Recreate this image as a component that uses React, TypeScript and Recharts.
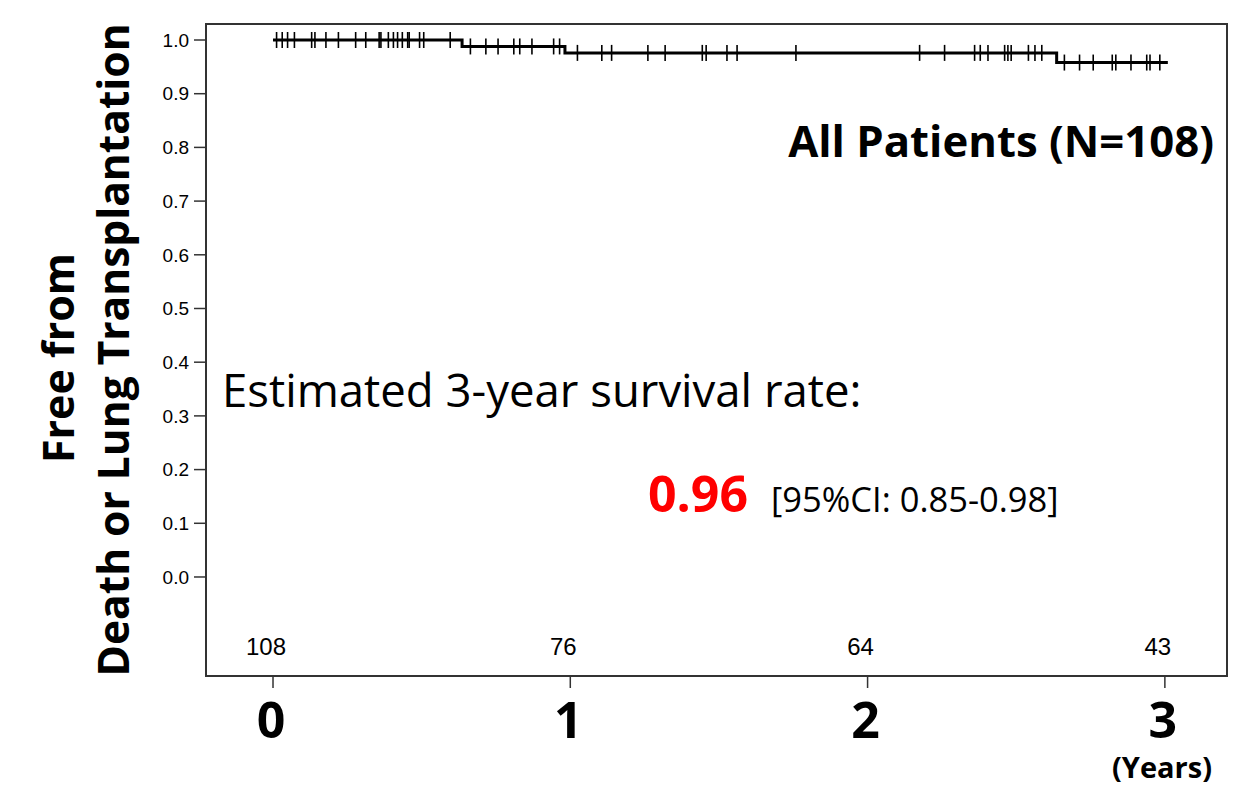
import React from "react";
import {
  ComposedChart,
  Line,
  Scatter,
  XAxis,
  YAxis,
  ReferenceArea,
} from "recharts";

// Kaplan-Meier step curve (years, survival)
const stepTimes = [0, 0.636, 0.982, 2.636, 3.01];
const stepSurvival = [1.0, 0.988, 0.976, 0.958, 0.958];

// Censoring times (years)
const censorTimes = [
  0.012, 0.031, 0.049, 0.072, 0.13, 0.141, 0.178, 0.22, 0.278, 0.312, 0.357,
  0.363, 0.388, 0.405, 0.419, 0.435, 0.453, 0.458, 0.493, 0.507, 0.596, 0.664,
  0.716, 0.757, 0.81, 0.83, 0.871, 0.944, 0.964, 1.024, 1.106, 1.139, 1.261,
  1.319, 1.444, 1.457, 1.527, 1.561, 1.759, 2.175, 2.259, 2.36, 2.379, 2.405,
  2.461, 2.472, 2.483, 2.541, 2.563, 2.586, 2.662, 2.713, 2.759, 2.823, 2.835,
  2.886, 2.939, 2.95, 2.983,
];

// Numbers at risk
const riskTimes = [0, 1, 2, 3];
const riskCounts = [108, 76, 64, 43];
const riskRowY = -0.127;

const xTicks = [0, 1, 2, 3];
const yTicks = [0, 0.1, 0.2, 0.3, 0.4, 0.5, 0.6, 0.7, 0.8, 0.9, 1.0];
const xDomain: [number, number] = [-0.2254, 3.209];
const yDomain: [number, number] = [-0.1844, 1.0298];

const curveData = stepTimes.map((t, i) => ({ t, s: stepSurvival[i] }));

const levelAt = (t: number) => {
  let v = stepSurvival[0];
  for (let i = 0; i < stepTimes.length; i++) {
    if (stepTimes[i] <= t) v = stepSurvival[i];
  }
  return v;
};
const censorData = censorTimes.map((t) => ({ t, s: levelAt(t) }));
const riskData = riskTimes.map((t, i) => ({ t, s: riskRowY, n: riskCounts[i] }));

const CensorMark = (props: any) => {
  const { cx, cy } = props;
  if (cx == null || cy == null) return null;
  return <line x1={cx} x2={cx} y1={cy - 8} y2={cy + 8} stroke="#000" strokeWidth={1.6} />;
};

const RiskLabel = (props: any) => {
  const { cx, cy } = props;
  const n = props.payload?.n ?? props.n;
  if (cx == null || cy == null) return null;
  return (
    <text
      x={cx - 7}
      y={cy + 10}
      textAnchor="middle"
      fontFamily="Liberation Sans, Arial, sans-serif"
      fontSize={24}
      fill="#000"
    >
      {n}
    </text>
  );
};

const XTick = (props: any) => {
  const { x, payload } = props;
  return (
    <text
      x={x - 2}
      y={738}
      textAnchor="middle"
      fontFamily="Open Sans, sans-serif"
      fontWeight={700}
      fontSize={50}
      fill="#000"
    >
      {payload.value}
    </text>
  );
};

export default function App() {
  return (
    <div
      style={{
        position: "absolute",
        left: 0,
        top: 0,
        width: 1246,
        height: 788,
        background: "#fff",
      }}
    >
      <ComposedChart
        width={1246}
        height={788}
        margin={{ top: 24, right: 19, bottom: 52, left: 146 }}
      >
        <XAxis
          type="number"
          dataKey="t"
          domain={xDomain}
          ticks={xTicks}
          allowDataOverflow
          height={60}
          axisLine={false}
          tickLine={{ stroke: "#333", strokeWidth: 1.5 }}
          tickSize={12}
          tick={<XTick />}
          interval={0}
        />
        <YAxis
          type="number"
          domain={yDomain}
          ticks={yTicks}
          allowDataOverflow
          width={60}
          axisLine={false}
          tickLine={{ stroke: "#333", strokeWidth: 1.5 }}
          tickSize={12}
          tickMargin={5}
          interval={0}
          tickFormatter={(v: number) => v.toFixed(1)}
          tick={{ fontSize: 19, fill: "#000", fontFamily: "Liberation Sans, Arial, sans-serif" }}
        />
        <ReferenceArea
          x1={xDomain[0]}
          x2={xDomain[1]}
          y1={yDomain[0]}
          y2={yDomain[1]}
          fill="none"
          fillOpacity={0}
          stroke="#333"
          strokeWidth={2}
          ifOverflow="visible"
        />
        <Line
          data={curveData}
          dataKey="s"
          type="stepAfter"
          stroke="#000"
          strokeWidth={3}
          dot={false}
          isAnimationActive={false}
        />
        <Scatter
          data={censorData}
          dataKey="s"
          shape={<CensorMark />}
          isAnimationActive={false}
        />
        <Scatter
          data={riskData}
          dataKey="s"
          shape={<RiskLabel />}
          isAnimationActive={false}
        />
      </ComposedChart>
      <svg
        width={1246}
        height={788}
        style={{ position: "absolute", left: 0, top: 0, pointerEvents: "none" }}
      >
        <g fontFamily="Open Sans, sans-serif" fill="#000">
          <text
            transform="translate(74,358) rotate(-90)"
            textAnchor="middle"
            fontWeight={700}
            fontSize={43}
          >
            Free from
          </text>
          <text
            transform="translate(129,350) rotate(-90)"
            textAnchor="middle"
            fontWeight={700}
            fontSize={42.5}
          >
            Death or Lung Transplantation
          </text>
          <text x={1214} y={157} textAnchor="end" fontWeight={700} fontSize={43.7}>
            All Patients (N=108)
          </text>
          <text x={222} y={407} fontSize={45.5}>
            Estimated 3-year survival rate:
          </text>
          <text x={648} y={512} fontWeight={700} fontSize={50} fill="#FF0000">
            0.96
          </text>
          <text x={771} y={512} fontSize={34.5}>
            [95%CI: 0.85-0.98]
          </text>
          <text x={1212} y={778} textAnchor="end" fontWeight={700} fontSize={29}>
            (Years)
          </text>
        </g>
      </svg>
    </div>
  );
}
